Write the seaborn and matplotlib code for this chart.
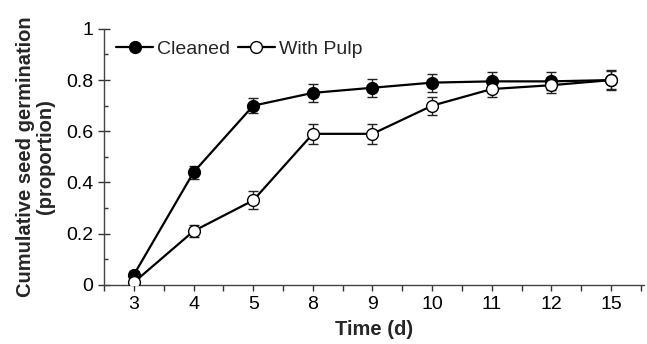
import matplotlib
matplotlib.use("Agg")
import matplotlib.pyplot as plt
import seaborn as sns
import pandas as pd
from matplotlib.ticker import MultipleLocator

# Datos
dias = ["3", "4", "5", "8", "9", "10", "11", "12", "15"]
limpia = [0.04, 0.44, 0.70, 0.75, 0.77, 0.79, 0.795, 0.795, 0.80]
limpia_err = [0.015, 0.025, 0.03, 0.035, 0.035, 0.035, 0.035, 0.035, 0.035]
pulpa = [0.01, 0.21, 0.33, 0.59, 0.59, 0.70, 0.765, 0.78, 0.80]
pulpa_err = [0.01, 0.025, 0.035, 0.04, 0.04, 0.035, 0.03, 0.03, 0.04]

df = pd.DataFrame({
    "Time": dias * 2,
    "Germination": limpia + pulpa,
    "err": limpia_err + pulpa_err,
    "Grupo": ["Cleaned"] * len(dias) + ["With Pulp"] * len(dias),
})

sns.set_style("ticks")
plt.rcParams["font.family"] = ["Liberation Sans", "DejaVu Sans"]

fig = plt.figure(figsize=(6.47, 3.44), dpi=100)
ax = fig.add_axes([0.161, 0.172, 0.834, 0.744])

estilos = {"Cleaned": "black", "With Pulp": "white"}
for grupo, color in estilos.items():
    d = df[df["Grupo"] == grupo]
    ax.errorbar(d["Time"], d["Germination"], yerr=d["err"], fmt="none",
                ecolor="#222222", elinewidth=1, capsize=3.5, capthick=1, zorder=2)
    sns.lineplot(x="Time", y="Germination", data=d, ax=ax, color="black",
                 marker="o", markersize=8.5, markerfacecolor=color,
                 markeredgecolor="black", markeredgewidth=1, linewidth=1.6,
                 label=grupo, zorder=3, sort=False)

ax.set_xlim(-0.5, 8.55)
ax.set_ylim(0, 1)
ax.yaxis.set_minor_locator(MultipleLocator(0.1))
ax.set_yticks([0, 0.2, 0.4, 0.6, 0.8, 1.0])
ax.set_yticklabels(["0", "0.2", "0.4", "0.6", "0.8", "1"])
ax.set_xticks(range(len(dias)), minor=False)
ax.set_xticks([i + 0.5 for i in range(-1, len(dias))], minor=True)

ax.tick_params(axis="y", which="major", direction="inout", length=8, width=1,
               labelsize=14, colors="#333333", labelcolor="black", pad=4)
ax.tick_params(axis="y", which="minor", direction="in", length=3, width=1, colors="#333333")
ax.tick_params(axis="x", which="major", direction="out", length=4, width=1,
               labelsize=14, colors="#333333", labelcolor="black", pad=4)
ax.tick_params(axis="x", which="minor", direction="out", length=4, width=1, colors="#333333")

sns.despine(ax=ax)
for s in ["left", "bottom"]:
    ax.spines[s].set_color("#444444")
    ax.spines[s].set_linewidth(1)

ax.set_xlabel("Time (d)", fontsize=14.5, fontweight="bold", labelpad=5)
ax.set_ylabel("Cumulative seed germination\n(proportion)", fontsize=14.5,
              fontweight="bold", labelpad=8, linespacing=1.05)

leg = ax.legend(loc="upper left", ncol=2, frameon=False, fontsize=14,
                bbox_to_anchor=(-0.01, 1.025), handlelength=1.9, handletextpad=0.2,
                columnspacing=0.4)

fig.savefig("out.png", dpi=100)
